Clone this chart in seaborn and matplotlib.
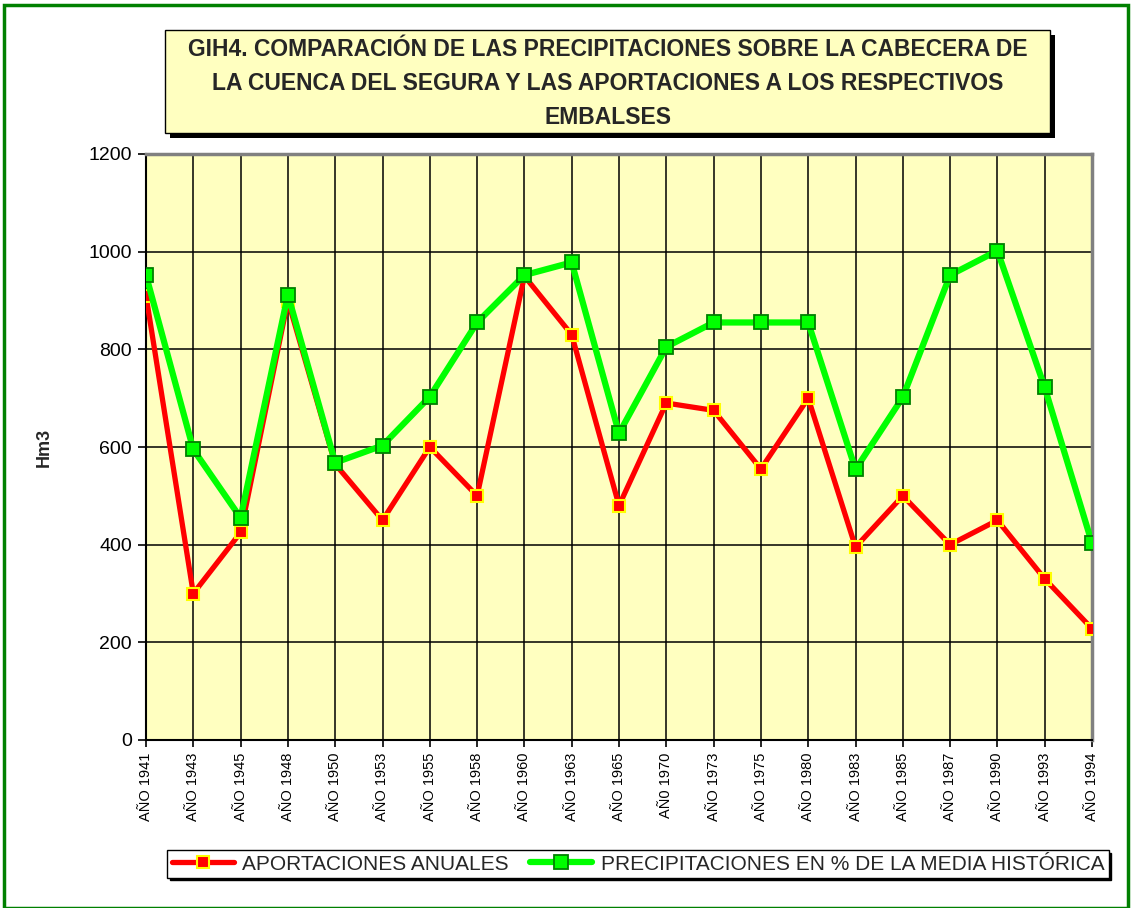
import matplotlib
matplotlib.use("Agg")
import matplotlib.pyplot as plt
import seaborn as sns
import pandas as pd
from matplotlib.patches import Rectangle
from matplotlib.lines import Line2D

years = ["AÑO 1941", "AÑO 1943", "AÑO 1945", "AÑO 1948", "AÑO 1950", "AÑO 1953",
         "AÑO 1955", "AÑO 1958", "AÑO 1960", "AÑO 1963", "AÑO 1965", "AÑ0 1970",
         "AÑO 1973", "AÑO 1975", "AÑO 1980", "AÑO 1983", "AÑO 1985", "AÑO 1987",
         "AÑO 1990", "AÑO 1993", "AÑO 1994"]
aportaciones = [910, 300, 425, 900, 565, 450, 600, 500, 950, 830, 480, 690,
                675, 555, 700, 395, 500, 400, 450, 330, 228]
precipitaciones = [952, 595, 455, 912, 568, 603, 703, 855, 952, 978, 628, 805,
                   855, 855, 855, 554, 702, 952, 1002, 722, 403]
name_a = "APORTACIONES ANUALES"
name_p = "PRECIPITACIONES EN % DE LA MEDIA HISTÓRICA"

sns.set_theme(style="white")
plt.rcParams['font.family'] = ['Liberation Sans', 'DejaVu Sans']

df = pd.DataFrame({"pos": range(len(years)), "year": years,
                   "a": aportaciones, "p": precipitaciones})

fig = plt.figure(figsize=(11.32, 9.08), dpi=100)
ax = fig.add_axes([146/1132, 1-740/908, (1092-146)/1132, (740-154)/908])
ax.set_facecolor("#FFFFC0")

sns.lineplot(data=df, x="pos", y="a", ax=ax, color="#FF0000", linewidth=3.8,
             marker="s", markersize=8, markerfacecolor="#FF0000",
             markeredgecolor="#FFFF00", markeredgewidth=1.5, zorder=3, legend=False)
sns.lineplot(data=df, x="pos", y="p", ax=ax, color="#00FF00", linewidth=4.5,
             marker="s", markersize=9.5, markerfacecolor="#00FF00",
             markeredgecolor="#008000", markeredgewidth=1.3, zorder=4, legend=False)

ax.set_xlim(0, len(years) - 1)
ax.set_ylim(0, 1200)
ax.set_yticks(range(0, 1201, 200))
ax.set_xticks(range(len(years)))
ax.set_xticklabels(years, rotation=90, fontsize=10.5)
ax.tick_params(axis="y", labelsize=14, direction="out", length=6, width=1.2, color="black", left=True, pad=4)
ax.tick_params(axis="x", direction="out", length=5, width=1.2, color="black", bottom=True, pad=4)
ax.grid(True, color="black", linewidth=1.1)
ax.set_axisbelow(True)
ax.set_xlabel("")
ax.set_ylabel("Hm3", fontsize=13, fontweight="bold", labelpad=26)
for s in ["left", "bottom"]:
    ax.spines[s].set_color("black")
    ax.spines[s].set_linewidth(1.5)
for s in ["top", "right"]:
    ax.spines[s].set_color("#808080")
    ax.spines[s].set_linewidth(2.5)
for lbl in ax.get_yticklabels():
    lbl.set_color("black")
for lbl in ax.get_xticklabels():
    lbl.set_color("black")

# Title box with shadow
tx0, ty0, tx1, ty1 = 165, 30, 1050, 133
fig.patches.append(Rectangle(((tx0 + 5) / 1132, 1 - (ty1 + 5) / 908), (tx1 - tx0) / 1132, (ty1 - ty0) / 908,
                             transform=fig.transFigure, facecolor="black", edgecolor="none", zorder=1))
fig.patches.append(Rectangle((tx0 / 1132, 1 - ty1 / 908), (tx1 - tx0) / 1132, (ty1 - ty0) / 908,
                             transform=fig.transFigure, facecolor="#FFFFC0", edgecolor="black", linewidth=1, zorder=2))
fig.text((tx0 + tx1) / 2 / 1132, 1 - (ty0 + ty1 + 4) / 2 / 908,
         "GIH4. COMPARACIÓN DE LAS PRECIPITACIONES SOBRE LA CABECERA DE\n"
         "LA CUENCA DEL SEGURA Y LAS APORTACIONES A LOS RESPECTIVOS\nEMBALSES",
         ha="center", va="center", fontsize=16.5, fontweight="bold", linespacing=1.6, zorder=3)

# Legend
handles = [Line2D([0], [0], color="#FF0000", linewidth=3.8, marker="s", markersize=8,
                  markerfacecolor="#FF0000", markeredgecolor="#FFFF00", markeredgewidth=1.5),
           Line2D([0], [0], color="#00FF00", linewidth=4.5, marker="s", markersize=9.5,
                  markerfacecolor="#00FF00", markeredgecolor="#008000", markeredgewidth=1.3)]
leg = fig.legend(handles, [name_a, name_p], loc="center",
                 bbox_to_anchor=(638 / 1132, 1 - 864 / 908), ncol=2, fontsize=15,
                 frameon=True, fancybox=False, shadow={"color": "black", "alpha": 1},
                 edgecolor="black", borderpad=0.2, handlelength=3, handletextpad=0.4,
                 columnspacing=1.0)
leg.get_frame().set_linewidth(1)
leg.get_frame().set_facecolor("white")

# Outer green frame
fig.patches.append(Rectangle((4 / 1132, 0), 1 - 8 / 1132, 1 - 5 / 908, transform=fig.transFigure,
                             facecolor="none", edgecolor="#008000", linewidth=2.5, zorder=10))

fig.savefig("out.png", dpi=100)
